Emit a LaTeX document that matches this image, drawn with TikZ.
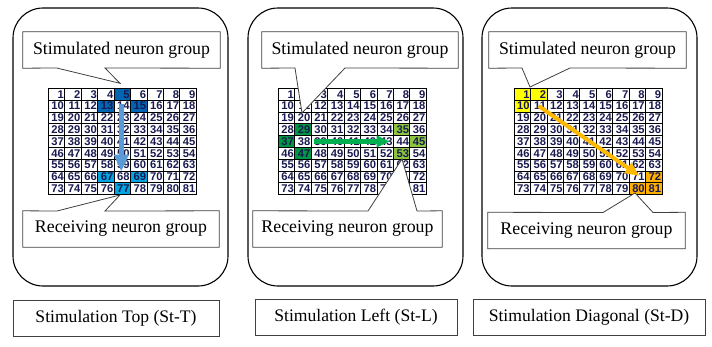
\documentclass[tikz,border=0pt]{standalone}
\usepackage{fontspec}
\setmainfont{Liberation Serif}
\newfontfamily\cellfont{Liberation Sans}
\usetikzlibrary{arrows.meta,calc}
\definecolor{dblue}{RGB}{0,102,179}
\definecolor{lblue}{RGB}{0,166,226}
\definecolor{ablue}{RGB}{91,155,213}
\definecolor{dgreen}{RGB}{0,150,68}
\definecolor{lgreen}{RGB}{140,198,63}
\definecolor{agreen}{RGB}{0,176,80}
\definecolor{yel}{RGB}{255,255,0}
\definecolor{org}{RGB}{255,176,0}
\definecolor{aorg}{RGB}{255,185,0}
\definecolor{cellnum}{RGB}{25,25,80}
\pgfdeclarelayer{bg}
\pgfdeclarelayer{mid}
\pgfsetlayers{bg,mid,main}
\tikzset{
  c-g1-5/.style={fill=dblue}, c-g1-13/.style={fill=dblue}, c-g1-15/.style={fill=dblue},
  c-g1-67/.style={fill=lblue}, c-g1-69/.style={fill=lblue}, c-g1-77/.style={fill=lblue},
  c-g2-29/.style={fill=dgreen}, c-g2-37/.style={fill=dgreen}, c-g2-47/.style={fill=dgreen},
  c-g2-35/.style={fill=lgreen}, c-g2-45/.style={fill=lgreen}, c-g2-53/.style={fill=lgreen},
  c-g3-1/.style={fill=yel}, c-g3-2/.style={fill=yel}, c-g3-10/.style={fill=yel},
  c-g3-72/.style={fill=org}, c-g3-80/.style={fill=org}, c-g3-81/.style={fill=org}
}
\begin{document}
\begin{tikzpicture}[x=1pt,y=-1pt,
  panel/.style={draw=black, line width=1.1pt, rounded corners=30pt, inner sep=0pt},
  cell/.style={draw=black, line width=0.7pt, minimum width=16.44pt, minimum height=11.8pt,
    inner sep=0pt, text width=14.8pt, align=right, text=cellnum,
    font=\cellfont\bfseries\fontsize{11.2}{11.2}\selectfont},
  callout/.style={inner sep=0pt, minimum height=36pt, font=\fontsize{17.8}{20}\selectfont},
  bubble/.style={draw=black!75, line width=0.8pt, fill=white},
  labelbox/.style={draw=black!75, line width=0.8pt, inner sep=0pt, minimum height=36pt,
    font=\fontsize{17.6}{20}\selectfont}
]
\useasboundingbox (0,0) rectangle (712,346);

\begin{pgfonlayer}{bg}
% panels
\node[panel, minimum width=215pt, minimum height=278pt] (p1) at (120.5,147) {};
\node[panel, minimum width=215pt, minimum height=278pt] (p2) at (355.5,147) {};
\node[panel, minimum width=215pt, minimum height=278pt] (p3) at (589.5,147) {};

% grids
\foreach \L/\g in {48.3/g1, 278.3/g2, 514/g3} {
  \foreach \i in {1,...,81} {
    \pgfmathtruncatemacro\c{mod(\i-1,9)}
    \pgfmathtruncatemacro\r{(\i-1)/9}
    \node[cell, c-\g-\i/.try] (\g-\i) at ({\L+\c*16.44+8.22},{88.3+\r*11.8+5.9}) {\i};
  }
}

% arrows
\draw[-{Triangle[length=17pt,width=14pt]}, line width=5pt, ablue]
  ($(g1-14.center)+(-1,-2)$) -- ($(g1-68.north)+(-1,1)$);
\draw[-{Triangle[length=13pt,width=11pt]}, line width=4.5pt, agreen]
  ($(g2-38.east)+(2,0)$) -- ($(g2-43.east)+(-4,0)$);
\draw[-{Triangle[length=14pt,width=12pt]}, line width=4pt, aorg]
  (g3-11.center) -- ($(g3-71.center)+(2,-1)$);
\end{pgfonlayer}

% callout text nodes
\node[callout, minimum width=197pt] (s1) at (121.5,50) {Stimulated neuron group};
\node[callout, minimum width=196pt] (r1) at (121,229) {Receiving neuron group};
\node[callout, minimum width=196pt] (s2) at (360,50) {Stimulated neuron group};
\node[callout, minimum width=189pt] (r2) at (347.5,229) {Receiving neuron group};
\node[callout, minimum width=197pt] (s3) at (587.5,50) {Stimulated neuron group};
\node[callout, minimum width=197pt] (r3) at (586.5,230.5) {Receiving neuron group};

% pointer coordinates
\coordinate (s1a) at (56.7,68);  \coordinate (s1b) at (105,68);  \coordinate (s1t) at (120,83.3);
\coordinate (r1a) at (57,211);   \coordinate (r1b) at (105,211); \coordinate (r1t) at (120,195);
\coordinate (s2a) at (295,68);   \coordinate (s2b) at (345,68);  \coordinate (s2t) at (302,113);
\coordinate (r2a) at (368,211);  \coordinate (r2b) at (417,211); \coordinate (r2t) at (402,159);
\coordinate (s3a) at (522,68);   \coordinate (s3b) at (570,68);  \coordinate (s3t) at (530,87);
\coordinate (r3a) at (603,212.5);\coordinate (r3b) at (653,212.5);\coordinate (r3t) at (635,193);

\begin{pgfonlayer}{mid}
\foreach \s in {s1,s2,s3} {
  \draw[bubble] (\s.north west) -- (\s.north east) -- (\s.south east) -- (\s b) -- (\s t)
    -- (\s a) -- (\s.south west) -- cycle;
}
\foreach \s in {r1,r2,r3} {
  \draw[bubble] (\s.south west) -- (\s.south east) -- (\s.north east) -- (\s b) -- (\s t)
    -- (\s a) -- (\s.north west) -- cycle;
}
\end{pgfonlayer}

% bottom labels
\node[labelbox, minimum width=206pt] (l1) at (116,318) {Stimulation Top (St-T)};
\node[labelbox, minimum width=202pt] (l2) at (356,317.5) {Stimulation Left (St-L)};
\node[labelbox, minimum width=232pt] (l3) at (589,317.5) {Stimulation Diagonal (St-D)};
\end{tikzpicture}
\end{document}
